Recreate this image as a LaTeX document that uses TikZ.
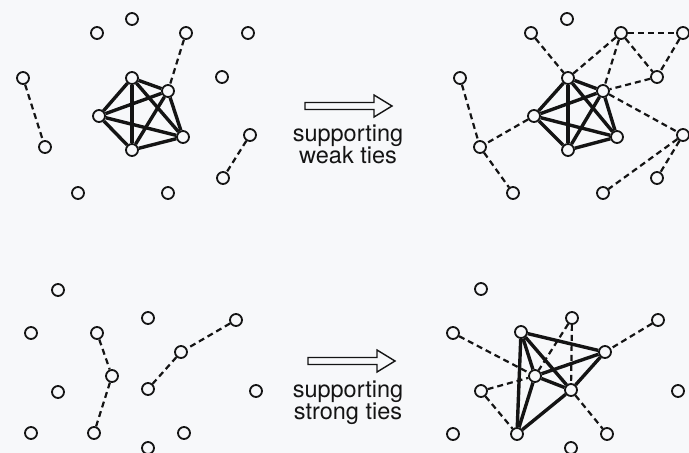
\documentclass[tikz,border=0pt]{standalone}
\usepackage{fontspec}
\setmainfont{TeX Gyre Heros}
\pgfdeclarelayer{back}
\pgfdeclarelayer{bg}
\pgfsetlayers{back,bg,main}
\definecolor{paper}{RGB}{247,248,250}
\definecolor{ink}{RGB}{20,20,20}
\tikzset{
  vtx/.style={circle, draw=ink, line width=1.8pt, fill=paper, minimum size=12pt, inner sep=0pt},
  strongtie/.style={draw=ink, line width=3.4pt},
  weaktie/.style={draw=ink, line width=2.2pt, dash pattern=on 6pt off 4pt},
  blockarrow/.style={draw=ink, line width=1.4pt, fill=paper, line join=miter},
  lbl/.style={font=\fontsize{23.5}{23.5}\selectfont, text=ink, inner sep=0pt, anchor=base}
}
\begin{document}
\begin{tikzpicture}[x=1pt,y=-1pt]
\begin{pgfonlayer}{back}
\fill[paper] (0,0) rectangle (689,453);
\end{pgfonlayer}
\useasboundingbox (0,0) rectangle (689,453);

% ---------- top left ----------
\foreach \n/\x/\y in {a1/132/19, a2/97/33, a3/186/33, a4/248/33, a5/23/78, a6/222/77,
  a7/45/147, a8/250/135, a9/223/178, a10/78/193, a11/168/193,
  ac1/132/78, ac2/168/91, ac3/99/116, ac4/183/137, ac5/132/150}
  \node[vtx] (\n) at (\x,\y) {};
% ---------- top right ----------
\foreach \n/\x/\y in {b1/567/19, b2/531/33, b3/621/33, b4/683/33, b5/460/78, b6/657/77,
  b7/480/147, b8/683/135, b9/657/178, b10/513/193, b11/603/193,
  bc1/568/78, bc2/603/91, bc3/534/116, bc4/617/137, bc5/568/150}
  \node[vtx] (\n) at (\x,\y) {};
% ---------- bottom left ----------
\foreach \n/\x/\y in {c1/58/290, c2/31/333, c3/97/333, c4/148/318, c5/236/320, c6/181/352,
  c7/112/376, c8/58/392, c9/148/389, c10/256/391, c11/31/433, c12/94/433, c13/184/433, c14/148/448}
  \node[vtx] (\n) at (\x,\y) {};
% ---------- bottom right ----------
\foreach \n/\x/\y in {d1/481/289, d2/453/333, d3/572/318, d4/658/320, d5/481/391, d6/678/391,
  d7/453/434, d8/607/434, d9/571/448,
  dc1/521/332, dc2/605/352, dc3/535/376, dc4/571/390, dc5/517/434}
  \node[vtx] (\n) at (\x,\y) {};

\begin{pgfonlayer}{bg}
  % top left
  \foreach \p/\q in {ac1/ac2, ac1/ac3, ac1/ac4, ac1/ac5, ac2/ac3, ac2/ac4, ac2/ac5, ac3/ac4, ac3/ac5, ac4/ac5}
    \draw[strongtie] (\p) -- (\q);
  \foreach \p/\q in {a5/a7, a3/ac2, a8/a9}
    \draw[weaktie] (\p) -- (\q);
  % top right
  \foreach \p/\q in {bc1/bc2, bc1/bc3, bc1/bc4, bc1/bc5, bc2/bc3, bc2/bc4, bc2/bc5, bc3/bc4, bc3/bc5, bc4/bc5}
    \draw[strongtie] (\p) -- (\q);
  \foreach \p/\q in {b2/bc1, bc1/b3, b3/bc2, b3/b4, b3/b6, b4/b6, b6/bc2, bc2/b8, b8/b9, b8/b11,
    bc3/b7, b5/b7, b7/b10}
    \draw[weaktie] (\p) -- (\q);
  % bottom left
  \foreach \p/\q in {c3/c7, c7/c12, c5/c6, c6/c9}
    \draw[weaktie] (\p) -- (\q);
  % bottom right
  \foreach \p/\q in {dc1/dc2, dc1/dc3, dc1/dc4, dc1/dc5, dc2/dc3, dc2/dc4, dc3/dc4, dc3/dc5, dc4/dc5}
    \draw[strongtie] (\p) -- (\q);
  \foreach \p/\q in {d2/dc3, d5/dc3, d5/dc5, d3/dc3, d3/dc4, d4/dc2, dc4/d8}
    \draw[weaktie] (\p) -- (\q);
\end{pgfonlayer}

% arrows
\draw[blockarrow] (305,102.5) -- (374,102.5) -- (374,95) -- (392,106) -- (374,117) -- (374,109.5) -- (305,109.5) -- cycle;
\draw[blockarrow] (308,357.5) -- (377,357.5) -- (377,350) -- (395,361) -- (377,372) -- (377,364.5) -- (308,364.5) -- cycle;

% labels
\node[lbl] (w1) at (348,141) {supporting};
\node[lbl] (w2) at (348,163) {weak ties};
\node[lbl] (s1) at (348,397) {supporting};
\node[lbl] (s2) at (348,419) {strong ties};
\end{tikzpicture}
\end{document}
